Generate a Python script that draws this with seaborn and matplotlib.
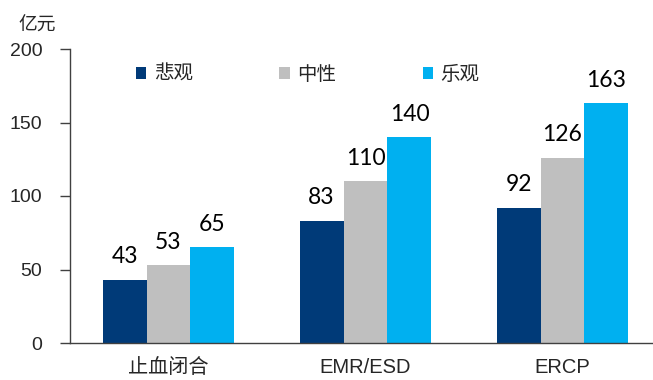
import matplotlib
matplotlib.use("Agg")
import matplotlib.pyplot as plt
import seaborn as sns
import pandas as pd

categories = ["止血闭合", "EMR/ESD", "ERCP"]
scenarios = ["悲观", "中性", "乐观"]
pessimistic = [43, 83, 92]
neutral = [53, 110, 126]
optimistic = [65, 140, 163]
y_ticks = [0, 50, 100, 150, 200]
colors = ["#003A78", "#BFBFBF", "#00B0F0"]

rows = []
for s, vals in zip(scenarios, [pessimistic, neutral, optimistic]):
    for c, v in zip(categories, vals):
        rows.append({"category": c, "scenario": s, "value": v})
df = pd.DataFrame(rows)

sns.set_theme(style="white")
plt.rcParams["font.family"] = ["Liberation Sans", "Noto Sans CJK SC", "DejaVu Sans"]

fig = plt.figure(figsize=(6.53, 3.8), dpi=100)
ax = fig.add_axes([70 / 653, 37 / 380, 591 / 653, 294 / 380])

sns.barplot(data=df, x="category", y="value", hue="scenario",
            order=categories, hue_order=scenarios, palette=colors,
            width=0.67, saturation=1, linewidth=0, ax=ax, legend=True)

for cont in ax.containers:
    for bar in cont:
        h = bar.get_height()
        ax.annotate(f"{h:.0f}", (bar.get_x() + bar.get_width() / 2, h),
                    xytext=(0, 9), textcoords="offset points",
                    ha="center", va="bottom", fontsize=16.5, color="black",
                    family=["Lato", "DejaVu Sans"])

ax.set_xlim(-0.5, 2.5)
ax.set_ylim(0, 200)
ax.set_yticks(y_ticks)
ax.set_yticklabels([str(t) for t in y_ticks], fontsize=14)
ax.set_xlabel("")
ax.set_ylabel("")
ax.set_xticks([0, 1, 2])
ax.set_xticklabels(categories, fontsize=14.5)
ax.tick_params(axis="x", length=0, pad=11)
ax.set_xticks([-0.5, 0.5, 1.5], minor=True)
ax.tick_params(axis="x", which="minor", length=6, width=1, color="#404040", direction="out")
ax.tick_params(axis="y", length=7, width=1, color="#404040", direction="out", pad=13, left=True)

for side in ["top", "right"]:
    ax.spines[side].set_visible(False)
for side in ["left", "bottom"]:
    ax.spines[side].set_color("#404040")
    ax.spines[side].set_linewidth(1)

ax.legend(loc="center left", bbox_to_anchor=((136 - 70) / 591, (343 - 75) / 294),
          ncol=3, frameon=False, borderpad=0, borderaxespad=0,
          fontsize=14, handlelength=0.52, handleheight=0.52, handletextpad=0.4,
          columnspacing=4.45)

fig.text(18 / 653, 1 - 25 / 380, "亿元", fontsize=13.5, va="center", ha="left",
         family=["Noto Sans CJK SC", "DejaVu Sans"])

fig.savefig("out.png", dpi=100)
